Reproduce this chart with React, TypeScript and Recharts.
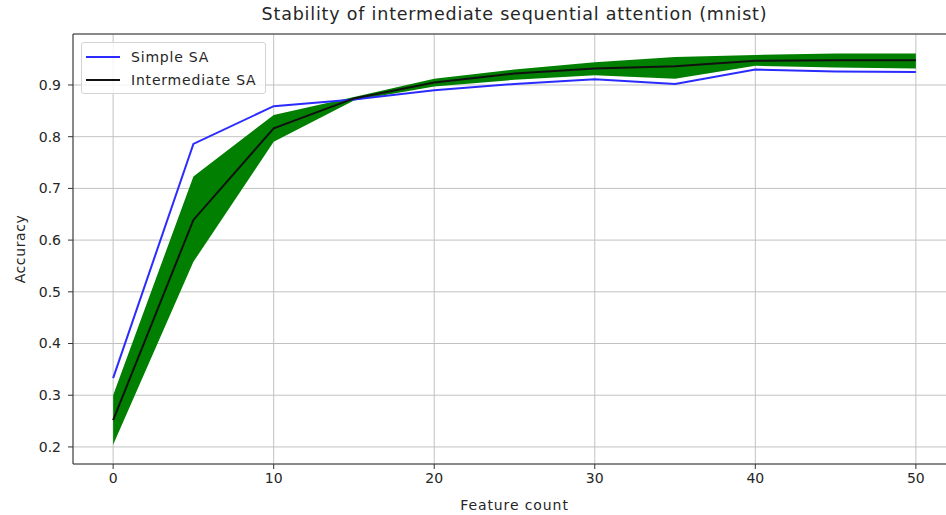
import { ComposedChart, Line, Area, XAxis, YAxis, CartesianGrid, ReferenceLine } from 'recharts';

const featureCounts = [0, 5, 10, 15, 20, 25, 30, 35, 40, 45, 50];
const simpleSA = [0.333, 0.786, 0.859, 0.872, 0.89, 0.902, 0.911, 0.902, 0.93, 0.926, 0.925];
const intermediateSA = [0.252, 0.639, 0.816, 0.874, 0.905, 0.922, 0.932, 0.936, 0.947, 0.948, 0.948];
const bandLow = [0.204, 0.558, 0.79, 0.87, 0.897, 0.91, 0.919, 0.912, 0.937, 0.934, 0.932];
const bandHigh = [0.3, 0.723, 0.842, 0.877, 0.912, 0.93, 0.944, 0.954, 0.958, 0.961, 0.961];
const xTicks = [0, 10, 20, 30, 40, 50];
const yTicks = [0.2, 0.3, 0.4, 0.5, 0.6, 0.7, 0.8, 0.9];
const X_DOMAIN = [-2.5, 52.5];
const Y_DOMAIN = [0.167, 0.9986];

const FONT = '"DejaVu Sans", sans-serif';
const TEXT = '#262626';

const data = featureCounts.map((f, i) => ({
  f,
  simple: simpleSA[i],
  inter: intermediateSA[i],
  band: [bandLow[i], bandHigh[i]],
}));

const legendRows = [
  { name: 'Simple SA', color: '#2b2bff' },
  { name: 'Intermediate SA', color: '#111' },
];

function LegendBox() {
  return (
    <div
      style={{
        position: 'absolute',
        left: 81,
        top: 42,
        border: '1px solid #d4d4d4',
        borderRadius: 3,
        background: 'rgba(255,255,255,0.8)',
        width: 185,
        height: 52,
        boxSizing: 'border-box',
        padding: '2px 0 0 4px',
        fontFamily: FONT,
        fontSize: 14,
        letterSpacing: 0.8,
        color: TEXT,
      }}
    >
      {legendRows.map((r) => (
        <div key={r.name} style={{ display: 'flex', alignItems: 'center', height: 23.5 }}>
          <div style={{ width: 34, height: 2, background: r.color, marginRight: 11 }} />
          <span>{r.name}</span>
        </div>
      ))}
    </div>
  );
}

export default function App() {
  return (
    <div style={{ position: 'fixed', left: 0, top: 0, width: 946, height: 515, overflow: 'hidden', background: '#fff' }}>
      <div
        style={{
          position: 'absolute',
          left: 0,
          width: 1029,
          top: 4,
          textAlign: 'center',
          fontFamily: FONT,
          fontSize: 17.5,
          letterSpacing: 0.8,
          color: TEXT,
        }}
      >
        Stability of intermediate sequential attention (mnist)
      </div>
      <ComposedChart
        width={960}
        height={515}
        data={data}
        margin={{ top: 34, right: 4, bottom: 0, left: 13 }}
        style={{ fontFamily: FONT }}
      >
        <CartesianGrid stroke="#c2c2c2" strokeWidth={1} />
        <XAxis
          dataKey="f"
          type="number"
          domain={X_DOMAIN}
          ticks={xTicks}
          allowDataOverflow
          height={51}
          stroke="#333"
          tickSize={5}
          tickMargin={4}
          tick={{ fill: TEXT, fontSize: 14 }}
          label={{ value: 'Feature count', position: 'insideBottom', offset: 5, fill: TEXT, fontSize: 14, letterSpacing: 0.9 }}
        />
        <YAxis
          type="number"
          domain={Y_DOMAIN}
          ticks={yTicks}
          allowDataOverflow
          width={60}
          stroke="#333"
          tickSize={5}
          tickMargin={7}
          tickFormatter={(v: number) => v.toFixed(1)}
          tick={{ fill: TEXT, fontSize: 14 }}
          label={{ value: 'Accuracy', angle: -90, position: 'insideLeft', offset: 0, dx: 7, fill: TEXT, fontSize: 14, letterSpacing: 0.6, style: { textAnchor: 'middle' } }}
        />
        <ReferenceLine y={Y_DOMAIN[1]} stroke="#333" strokeWidth={1.2} />
        <Area
          dataKey="band"
          type="linear"
          stroke="none"
          fill="#007f00"
          fillOpacity={1}
          isAnimationActive={false}
          legendType="none"
        />
        <Line
          dataKey="simple"
          name="Simple SA"
          type="linear"
          stroke="#2b2bff"
          strokeWidth={2}
          dot={false}
          isAnimationActive={false}
        />
        <Line
          dataKey="inter"
          name="Intermediate SA"
          type="linear"
          stroke="#111"
          strokeWidth={2}
          dot={false}
          isAnimationActive={false}
        />
      </ComposedChart>
      <LegendBox />
    </div>
  );
}
